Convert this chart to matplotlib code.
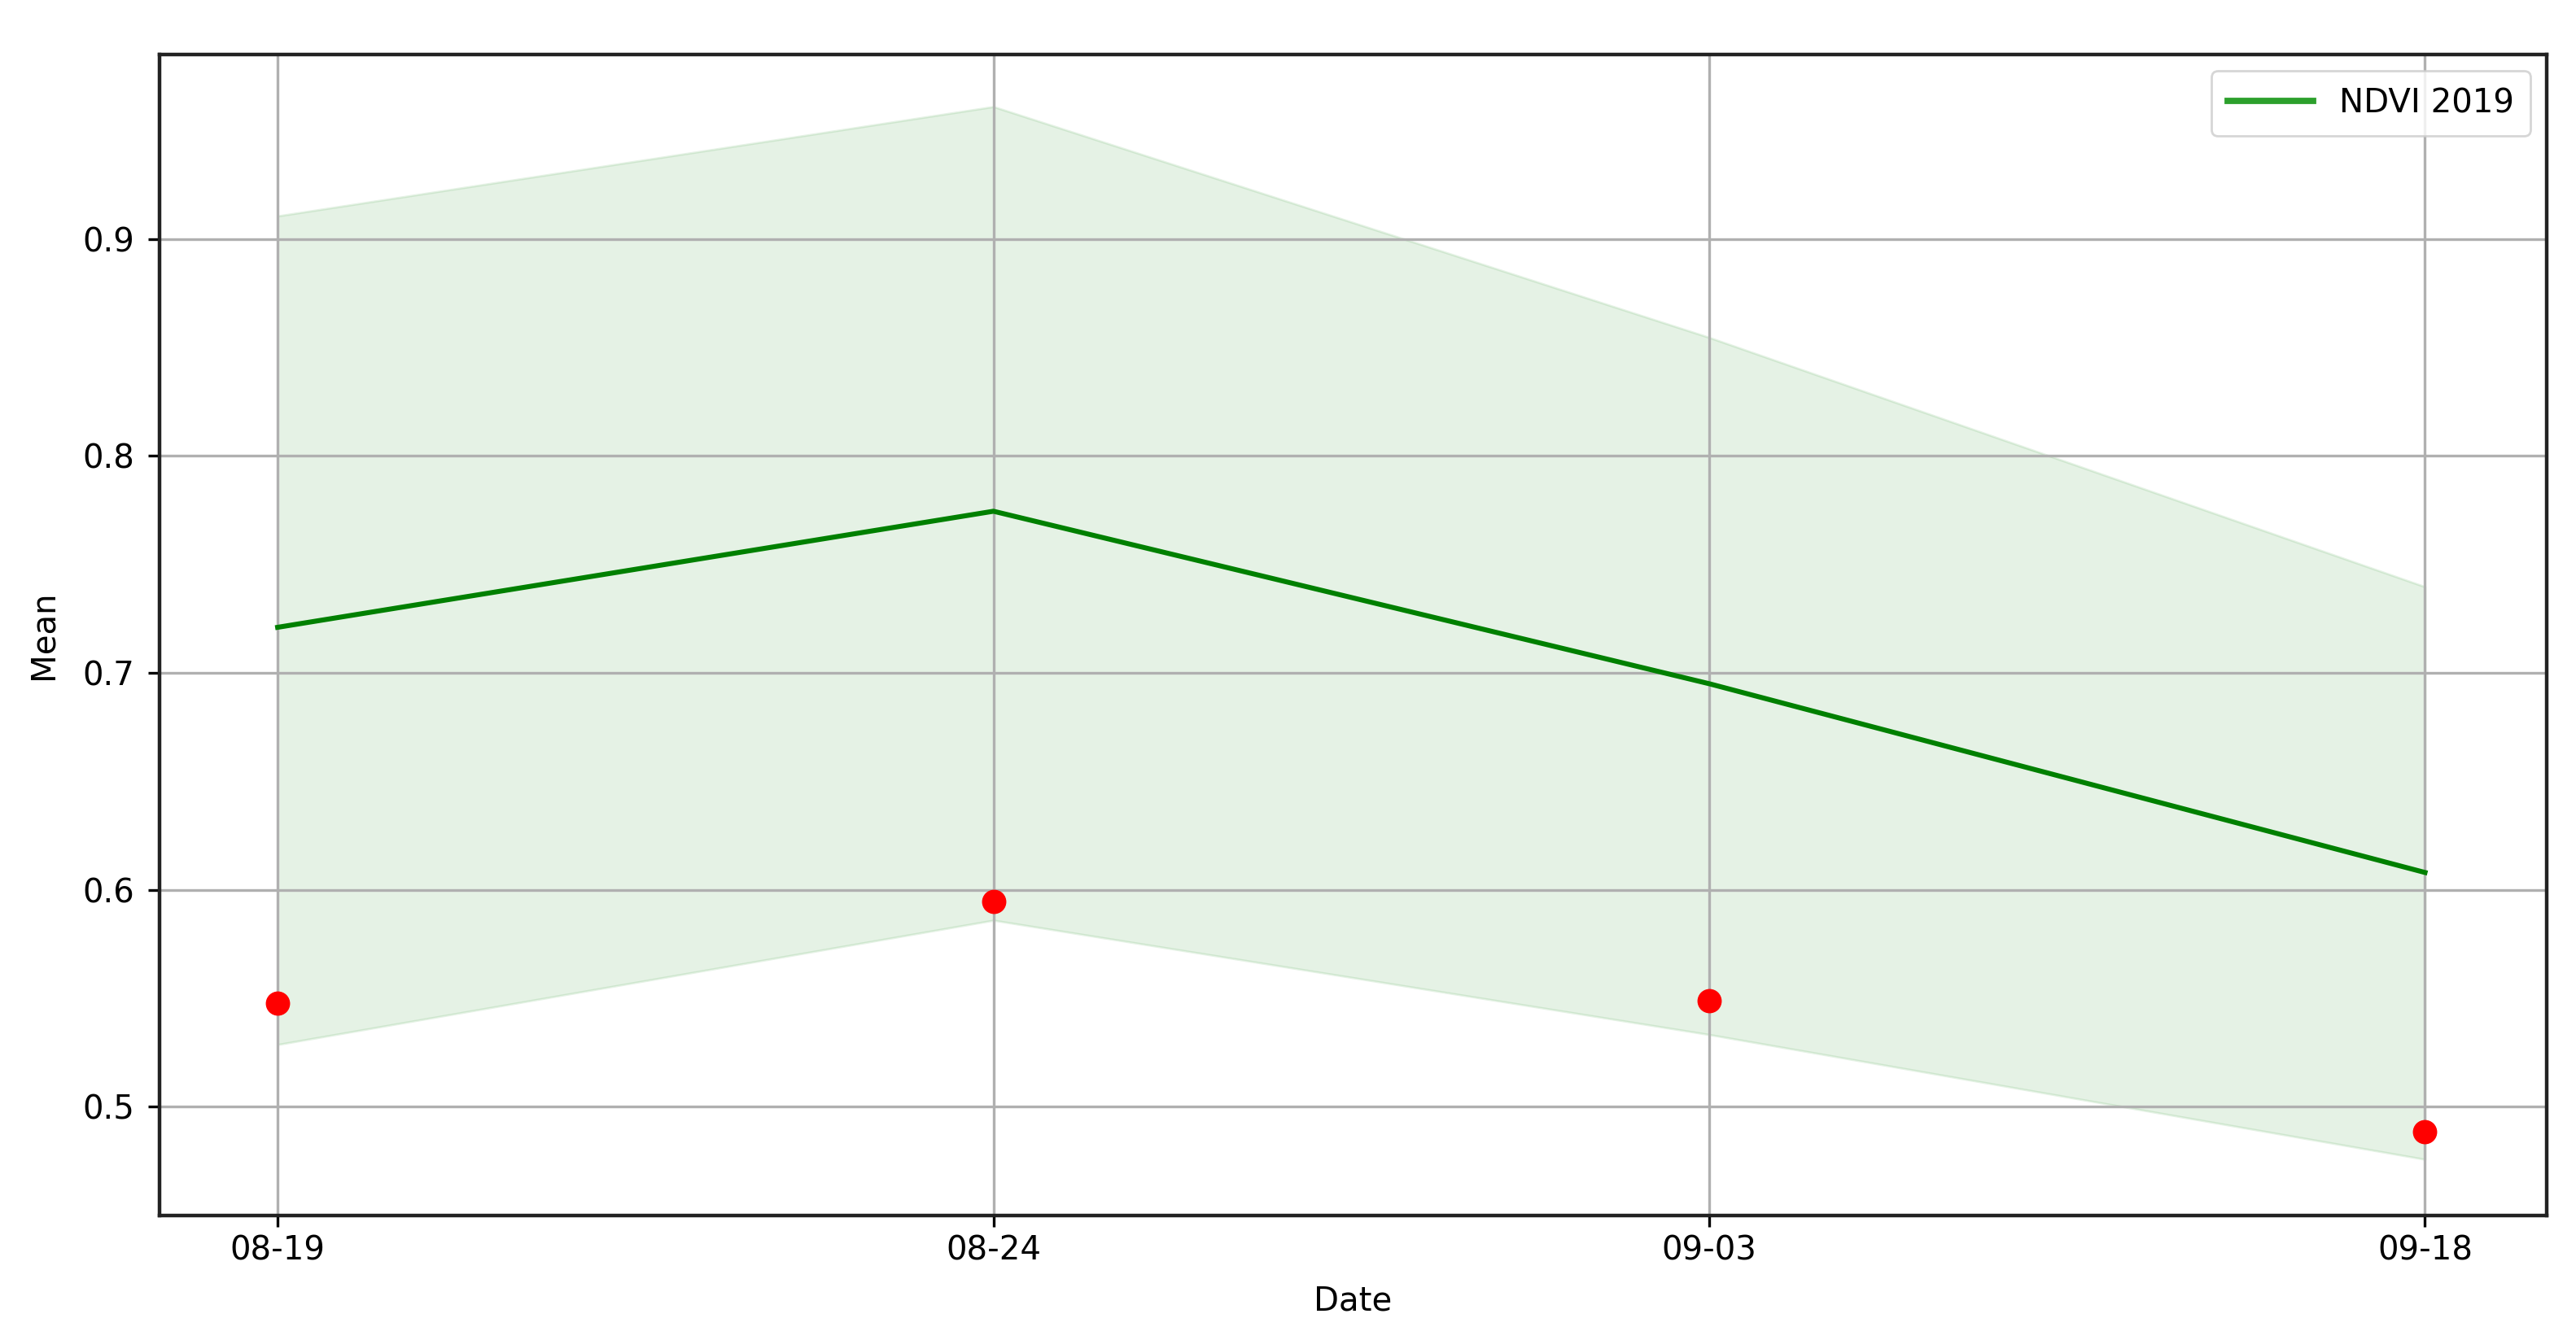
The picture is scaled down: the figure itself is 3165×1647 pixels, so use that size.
import matplotlib
matplotlib.use("Agg")
import matplotlib.pyplot as plt
from matplotlib.lines import Line2D
import numpy as np

# values
dates = ['08-19', '08-24', '09-03', '09-18']
ndvi_mean = [0.721, 0.7745, 0.695, 0.608]
ndvi_upper = [0.9106, 0.961, 0.8546, 0.7397]
ndvi_lower = [0.5287, 0.586, 0.5333, 0.4758]
red_points = [0.5476, 0.5945, 0.549, 0.4887]

x = np.arange(len(dates))

fig = plt.figure(figsize=(15.825, 8.235), dpi=200)
ax = fig.add_axes([196 / 3165, 1 - 1494 / 1647, (3129 - 196) / 3165, (1494 - 67) / 1647])

ax.plot(x, ndvi_mean, color='green', linewidth=2.2)
ax.fill_between(x, ndvi_lower, ndvi_upper, color='green', alpha=0.1)
ax.scatter(x, red_points, color='red', s=95, zorder=3)

ax.set_xticks(x)
ax.set_xticklabels(dates)
ax.tick_params(labelsize=14.5, length=5, width=1.2)
ax.tick_params(axis='y', pad=6)
ax.set_yticks([0.5, 0.6, 0.7, 0.8, 0.9])
ax.set_xlim(-0.165, 3.17)
ax.set_ylim(0.4499, 0.985)
ax.set_xlabel('Date', fontsize=14.5, labelpad=8)
ax.set_ylabel('Mean', fontsize=14.5, labelpad=10)
ax.grid(True, linewidth=1.2)
for s in ax.spines.values():
    s.set_linewidth(1.6)
    s.set_color('#222222')

handle = Line2D([], [], color='#2ca02c', linewidth=2.8)
ax.legend([handle], ['NDVI 2019'], loc='upper right', fontsize=14.5,
          handlelength=2.6, borderpad=0.5)

fig.savefig('out.png', dpi=200)
